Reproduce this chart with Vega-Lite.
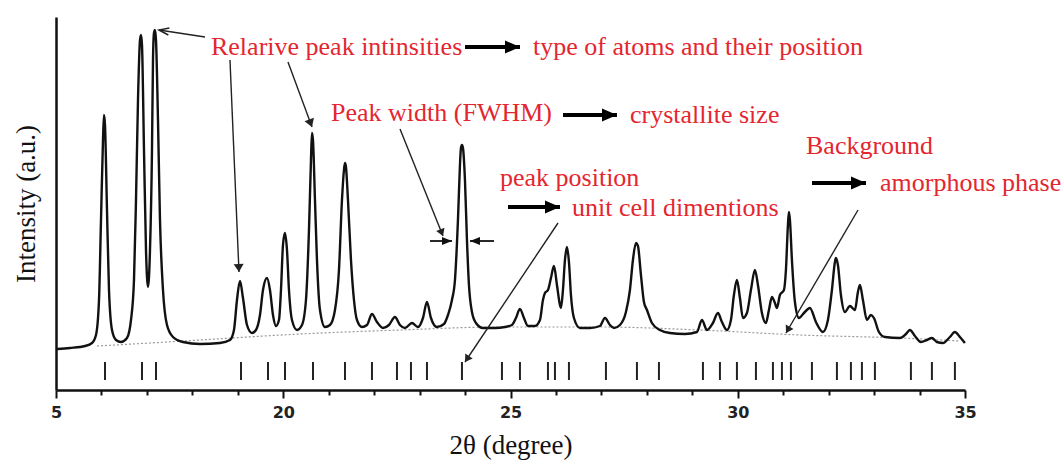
{
  "$schema": "https://vega.github.io/schema/vega-lite/v6.json",
  "width": 909,
  "height": 373,
  "autosize": {"type": "none"},
  "padding": {"left": 56, "top": 17, "right": 98, "bottom": 73},
  "background": "white",
  "config": {"view": {"stroke": null}, "axis": {"grid": false}},
  "datasets": {
    "xrd": [
      {"t":15.022,"i":41},{"t":15.308,"i":42},{"t":15.638,"i":44},{"t":15.792,"i":47},{"t":15.880,"i":55},{"t":15.946,"i":90},{"t":15.990,"i":170},{"t":16.034,"i":250},{"t":16.056,"i":275},{"t":16.078,"i":265},{"t":16.122,"i":180},{"t":16.166,"i":100},{"t":16.232,"i":60},{"t":16.320,"i":50},{"t":16.430,"i":48},{"t":16.562,"i":52},{"t":16.650,"i":70},{"t":16.716,"i":110},{"t":16.760,"i":190},{"t":16.804,"i":290},{"t":16.848,"i":350},{"t":16.870,"i":355},{"t":16.892,"i":345},{"t":16.936,"i":240},{"t":16.980,"i":140},{"t":17.024,"i":103},{"t":17.068,"i":140},{"t":17.112,"i":240},{"t":17.134,"i":330},{"t":17.156,"i":357},{"t":17.178,"i":360},{"t":17.200,"i":350},{"t":17.244,"i":270},{"t":17.288,"i":170},{"t":17.354,"i":100},{"t":17.442,"i":65},{"t":17.574,"i":53},{"t":17.794,"i":48},{"t":18.168,"i":46},{"t":18.608,"i":47},{"t":18.828,"i":50},{"t":18.916,"i":60},{"t":18.982,"i":90},{"t":19.048,"i":109},{"t":19.114,"i":92},{"t":19.202,"i":65},{"t":19.312,"i":57},{"t":19.400,"i":60},{"t":19.488,"i":75},{"t":19.554,"i":100},{"t":19.642,"i":112},{"t":19.708,"i":100},{"t":19.774,"i":75},{"t":19.840,"i":64},{"t":19.906,"i":70},{"t":19.950,"i":100},{"t":19.994,"i":145},{"t":20.038,"i":157},{"t":20.082,"i":140},{"t":20.126,"i":100},{"t":20.192,"i":70},{"t":20.302,"i":60},{"t":20.412,"i":65},{"t":20.500,"i":90},{"t":20.566,"i":160},{"t":20.610,"i":230},{"t":20.632,"i":257},{"t":20.654,"i":250},{"t":20.698,"i":190},{"t":20.742,"i":130},{"t":20.808,"i":80},{"t":20.918,"i":63},{"t":21.028,"i":65},{"t":21.138,"i":80},{"t":21.226,"i":120},{"t":21.292,"i":190},{"t":21.336,"i":220},{"t":21.358,"i":227},{"t":21.380,"i":223},{"t":21.424,"i":190},{"t":21.490,"i":130},{"t":21.556,"i":90},{"t":21.622,"i":70},{"t":21.732,"i":63},{"t":21.842,"i":65},{"t":21.952,"i":76},{"t":22.062,"i":68},{"t":22.194,"i":62},{"t":22.326,"i":65},{"t":22.458,"i":73},{"t":22.568,"i":65},{"t":22.678,"i":62},{"t":22.832,"i":67},{"t":22.964,"i":63},{"t":23.074,"i":72},{"t":23.162,"i":88},{"t":23.250,"i":72},{"t":23.382,"i":63},{"t":23.536,"i":66},{"t":23.624,"i":75},{"t":23.712,"i":90},{"t":23.778,"i":110},{"t":23.844,"i":170},{"t":23.888,"i":225},{"t":23.910,"i":242},{"t":23.932,"i":245},{"t":23.954,"i":242},{"t":23.998,"i":210},{"t":24.042,"i":150},{"t":24.086,"i":105},{"t":24.152,"i":78},{"t":24.240,"i":67},{"t":24.394,"i":62},{"t":24.658,"i":62},{"t":24.878,"i":63},{"t":25.032,"i":65},{"t":25.120,"i":72},{"t":25.208,"i":81},{"t":25.296,"i":72},{"t":25.384,"i":64},{"t":25.538,"i":64},{"t":25.648,"i":70},{"t":25.714,"i":90},{"t":25.758,"i":97},{"t":25.824,"i":100},{"t":25.890,"i":112},{"t":25.956,"i":124},{"t":26.022,"i":105},{"t":26.088,"i":85},{"t":26.110,"i":82},{"t":26.154,"i":100},{"t":26.198,"i":130},{"t":26.242,"i":143},{"t":26.286,"i":128},{"t":26.330,"i":95},{"t":26.396,"i":72},{"t":26.528,"i":62},{"t":26.748,"i":62},{"t":26.968,"i":64},{"t":27.078,"i":72},{"t":27.188,"i":65},{"t":27.276,"i":62},{"t":27.408,"i":65},{"t":27.540,"i":78},{"t":27.628,"i":100},{"t":27.694,"i":130},{"t":27.760,"i":147},{"t":27.804,"i":144},{"t":27.870,"i":115},{"t":27.936,"i":88},{"t":28.002,"i":80},{"t":28.112,"i":67},{"t":28.288,"i":60},{"t":28.508,"i":57},{"t":28.838,"i":56},{"t":29.102,"i":58},{"t":29.212,"i":70},{"t":29.322,"i":60},{"t":29.454,"i":67},{"t":29.564,"i":77},{"t":29.652,"i":68},{"t":29.762,"i":60},{"t":29.850,"i":70},{"t":29.916,"i":95},{"t":29.982,"i":110},{"t":30.048,"i":92},{"t":30.114,"i":72},{"t":30.202,"i":77},{"t":30.290,"i":100},{"t":30.378,"i":120},{"t":30.444,"i":105},{"t":30.532,"i":77},{"t":30.620,"i":67},{"t":30.686,"i":80},{"t":30.752,"i":93},{"t":30.818,"i":87},{"t":30.862,"i":82},{"t":30.928,"i":95},{"t":31.016,"i":100},{"t":31.060,"i":120},{"t":31.104,"i":165},{"t":31.126,"i":178},{"t":31.148,"i":170},{"t":31.192,"i":130},{"t":31.258,"i":88},{"t":31.346,"i":72},{"t":31.456,"i":77},{"t":31.588,"i":82},{"t":31.720,"i":68},{"t":31.874,"i":58},{"t":31.984,"i":70},{"t":32.072,"i":100},{"t":32.138,"i":128},{"t":32.160,"i":132},{"t":32.204,"i":125},{"t":32.270,"i":95},{"t":32.358,"i":78},{"t":32.468,"i":84},{"t":32.578,"i":80},{"t":32.644,"i":98},{"t":32.688,"i":105},{"t":32.754,"i":90},{"t":32.842,"i":70},{"t":32.930,"i":75},{"t":32.996,"i":72},{"t":33.106,"i":58},{"t":33.238,"i":53},{"t":33.568,"i":52},{"t":33.700,"i":56},{"t":33.788,"i":60},{"t":33.898,"i":54},{"t":34.030,"i":48},{"t":34.162,"i":50},{"t":34.272,"i":52},{"t":34.382,"i":48},{"t":34.514,"i":47},{"t":34.668,"i":53},{"t":34.778,"i":58},{"t":34.888,"i":53},{"t":34.998,"i":47}
    ],
    "bg": [
      {"t":15.902,"i":44},{"t":17.068,"i":47},{"t":18.168,"i":50},{"t":20.368,"i":56},{"t":22.568,"i":60},{"t":24.768,"i":63},{"t":26.968,"i":63},{"t":29.168,"i":60},{"t":31.368,"i":55},{"t":33.568,"i":52},{"t":34.888,"i":49}
    ],
    "refl": [
      {"t":16.078},{"t":16.892},{"t":17.200},{"t":19.070},{"t":19.664},{"t":20.038},{"t":20.654},{"t":21.358},{"t":21.952},{"t":22.502},{"t":22.810},{"t":23.162},{"t":23.932},{"t":24.812},{"t":25.208},{"t":25.824},{"t":25.978},{"t":26.286},{"t":27.100},{"t":27.782},{"t":28.266},{"t":29.234},{"t":29.608},{"t":29.982},{"t":30.400},{"t":30.774},{"t":30.972},{"t":31.170},{"t":31.632},{"t":32.182},{"t":32.490},{"t":32.732},{"t":33.018},{"t":33.810},{"t":34.272},{"t":34.778}
    ],
    "labels": [
      {"t":18.410,"i":343,"text":"Relarive peak intinsities"},
      {"t":25.495,"i":343,"text":"type of atoms and their position"},
      {"t":21.051,"i":277,"text":"Peak width (FWHM)"},
      {"t":27.629,"i":275,"text":"crystallite size"},
      {"t":24.769,"i":212,"text":"peak position"},
      {"t":26.353,"i":182,"text":"unit cell dimentions"},
      {"t":31.502,"i":244,"text":"Background"},
      {"t":33.130,"i":207,"text":"amorphous phase"}
    ],
    "thick": [
      {"t":23.999,"t2":25.209,"i":343},
      {"t":26.155,"t2":27.343,"i":275},
      {"t":24.945,"t2":26.089,"i":183},
      {"t":31.634,"t2":32.822,"i":207}
    ],
    "fwhm": [
      {"side":"left","t":23.229,"t2":23.713,"i":149},
      {"side":"right","t":24.637,"t2":24.109,"i":149}
    ],
    "pointers": [
      {"id":"A1","t":18.278,"i":353,"t2":17.266,"i2":360},
      {"id":"A2","t":18.828,"i":330,"t2":19.026,"i2":118},
      {"id":"A3","t":20.104,"i":328,"t2":20.633,"i2":263},
      {"id":"A4","t":22.569,"i":261,"t2":23.515,"i2":154},
      {"id":"A5","t":26.045,"i":167,"t2":23.999,"i2":28},
      {"id":"A6","t":32.646,"i":180,"t2":31.062,"i2":57}
    ]
  },
  "layer": [
    {
      "data": {"name": "bg"},
      "mark": {"type": "line", "color": "#9a9a9a", "strokeWidth": 1.2, "strokeDash": [2, 2], "interpolate": "monotone"},
      "encoding": {
        "x": {"field": "t", "type": "quantitative", "scale": {"domain": [15, 35], "nice": false, "zero": false},
          "axis": {
            "values": [15,16,17,18,19,20,21,22,23,24,25,26,27,28,29,30,31,32,33,34,35],
            "labelExpr": "datum.value === 15 ? '5' : (datum.value % 5 === 0 ? datum.label : '')",
            "labelFont": "DejaVu Sans", "labelFontWeight": "bold", "labelFontSize": 16, "labelColor": "#222",
            "labelPadding": 6, "labelFlush": false, "labelOverlap": false,
            "domainColor": "#111", "domainWidth": 2.5,
            "tickColor": "#111", "tickWidth": 2,
            "tickSize": {"condition": {"test": "datum.value % 5 === 0", "value": 8}, "value": 5},
            "title": "2θ (degree)", "titleFont": "Liberation Serif", "titleFontSize": 27, "titleFontWeight": "normal", "titleColor": "#111", "titlePadding": 12
          }
        },
        "y": {"field": "i", "type": "quantitative", "scale": {"domain": [0, 373], "nice": false, "zero": false},
          "axis": {
            "ticks": false, "labels": false, "domainColor": "#111", "domainWidth": 2.5,
            "title": "Intensity (a.u.)", "titleFont": "Liberation Serif", "titleFontSize": 27, "titleFontWeight": "normal", "titleColor": "#111", "titlePadding": 16
          }
        }
      }
    },
    {
      "data": {"name": "xrd"},
      "mark": {"type": "line", "color": "#111", "strokeWidth": 2.4, "interpolate": "monotone"},
      "encoding": {
        "x": {"field": "t", "type": "quantitative"},
        "y": {"field": "i", "type": "quantitative"}
      }
    },
    {
      "data": {"name": "refl"},
      "mark": {"type": "rule", "color": "#222", "strokeWidth": 2},
      "encoding": {
        "x": {"field": "t", "type": "quantitative"},
        "y": {"datum": 10},
        "y2": {"datum": 28}
      }
    },
    {
      "data": {"name": "labels"},
      "mark": {"type": "text", "align": "left", "baseline": "middle", "font": "Liberation Serif", "fontSize": 26, "color": "#e3262f"},
      "encoding": {
        "x": {"field": "t", "type": "quantitative"},
        "y": {"field": "i", "type": "quantitative"},
        "text": {"field": "text"}
      }
    },
    {
      "data": {"name": "thick"},
      "mark": {"type": "rule", "color": "#000", "strokeWidth": 4},
      "encoding": {
        "x": {"field": "t", "type": "quantitative"},
        "x2": {"field": "t2"},
        "y": {"field": "i", "type": "quantitative"}
      }
    },
    {
      "data": {"name": "thick"},
      "mark": {"type": "point", "shape": "M0,0 L-0.87,2 L0.87,2 Z", "filled": true, "color": "#000", "opacity": 1, "size": 225, "angle": 90},
      "encoding": {
        "x": {"field": "t2", "type": "quantitative"},
        "y": {"field": "i", "type": "quantitative"}
      }
    },
    {
      "data": {"name": "fwhm"},
      "mark": {"type": "rule", "color": "#111", "strokeWidth": 1.8},
      "encoding": {
        "x": {"field": "t", "type": "quantitative"},
        "x2": {"field": "t2"},
        "y": {"field": "i", "type": "quantitative"}
      }
    },
    {
      "data": {"name": "fwhm"},
      "transform": [{"filter": "datum.side === 'left'"}],
      "mark": {"type": "point", "shape": "M0,0 L-0.8,2 L0.8,2 Z", "filled": true, "color": "#111", "opacity": 1, "size": 100, "angle": 90},
      "encoding": {
        "x": {"field": "t2", "type": "quantitative"},
        "y": {"field": "i", "type": "quantitative"}
      }
    },
    {
      "data": {"name": "fwhm"},
      "transform": [{"filter": "datum.side === 'right'"}],
      "mark": {"type": "point", "shape": "M0,0 L-0.8,2 L0.8,2 Z", "filled": true, "color": "#111", "opacity": 1, "size": 100, "angle": 270},
      "encoding": {
        "x": {"field": "t2", "type": "quantitative"},
        "y": {"field": "i", "type": "quantitative"}
      }
    },
    {
      "data": {"name": "pointers"},
      "mark": {"type": "rule", "color": "#222", "strokeWidth": 1.4},
      "encoding": {
        "x": {"field": "t", "type": "quantitative"},
        "x2": {"field": "t2"},
        "y": {"field": "i", "type": "quantitative"},
        "y2": {"field": "i2"}
      }
    },
    {
      "data": {"name": "pointers"},
      "transform": [{"filter": "datum.id === 'A1'"}],
      "mark": {"type": "point", "shape": "M-0.7,2 L0,0 L0.7,2", "filled": false, "color": "#222", "opacity": 1, "strokeWidth": 1.5, "size": 100, "angle": 278.7},
      "encoding": {"x": {"field": "t2", "type": "quantitative"}, "y": {"field": "i2", "type": "quantitative"}}
    },
    {
      "data": {"name": "pointers"},
      "transform": [{"filter": "datum.id === 'A2'"}],
      "mark": {"type": "point", "shape": "M0,0 L-1,1.6 L1,1.6 Z", "filled": true, "color": "#222", "opacity": 1, "size": 100, "angle": 177.6},
      "encoding": {"x": {"field": "t2", "type": "quantitative"}, "y": {"field": "i2", "type": "quantitative"}}
    },
    {
      "data": {"name": "pointers"},
      "transform": [{"filter": "datum.id === 'A3'"}],
      "mark": {"type": "point", "shape": "M0,0 L-1,1.6 L1,1.6 Z", "filled": true, "color": "#222", "opacity": 1, "size": 100, "angle": 159.7},
      "encoding": {"x": {"field": "t2", "type": "quantitative"}, "y": {"field": "i2", "type": "quantitative"}}
    },
    {
      "data": {"name": "pointers"},
      "transform": [{"filter": "datum.id === 'A4'"}],
      "mark": {"type": "point", "shape": "M0,0 L-1,1.6 L1,1.6 Z", "filled": true, "color": "#222", "opacity": 1, "size": 80, "angle": 158.1},
      "encoding": {"x": {"field": "t2", "type": "quantitative"}, "y": {"field": "i2", "type": "quantitative"}}
    },
    {
      "data": {"name": "pointers"},
      "transform": [{"filter": "datum.id === 'A5'"}],
      "mark": {"type": "point", "shape": "M0,0 L-1,1.6 L1,1.6 Z", "filled": true, "color": "#222", "opacity": 1, "size": 80, "angle": 213.8},
      "encoding": {"x": {"field": "t2", "type": "quantitative"}, "y": {"field": "i2", "type": "quantitative"}}
    },
    {
      "data": {"name": "pointers"},
      "transform": [{"filter": "datum.id === 'A6'"}],
      "mark": {"type": "point", "shape": "M0,0 L-1,1.6 L1,1.6 Z", "filled": true, "color": "#222", "opacity": 1, "size": 80, "angle": 210.3},
      "encoding": {"x": {"field": "t2", "type": "quantitative"}, "y": {"field": "i2", "type": "quantitative"}}
    }
  ]
}
